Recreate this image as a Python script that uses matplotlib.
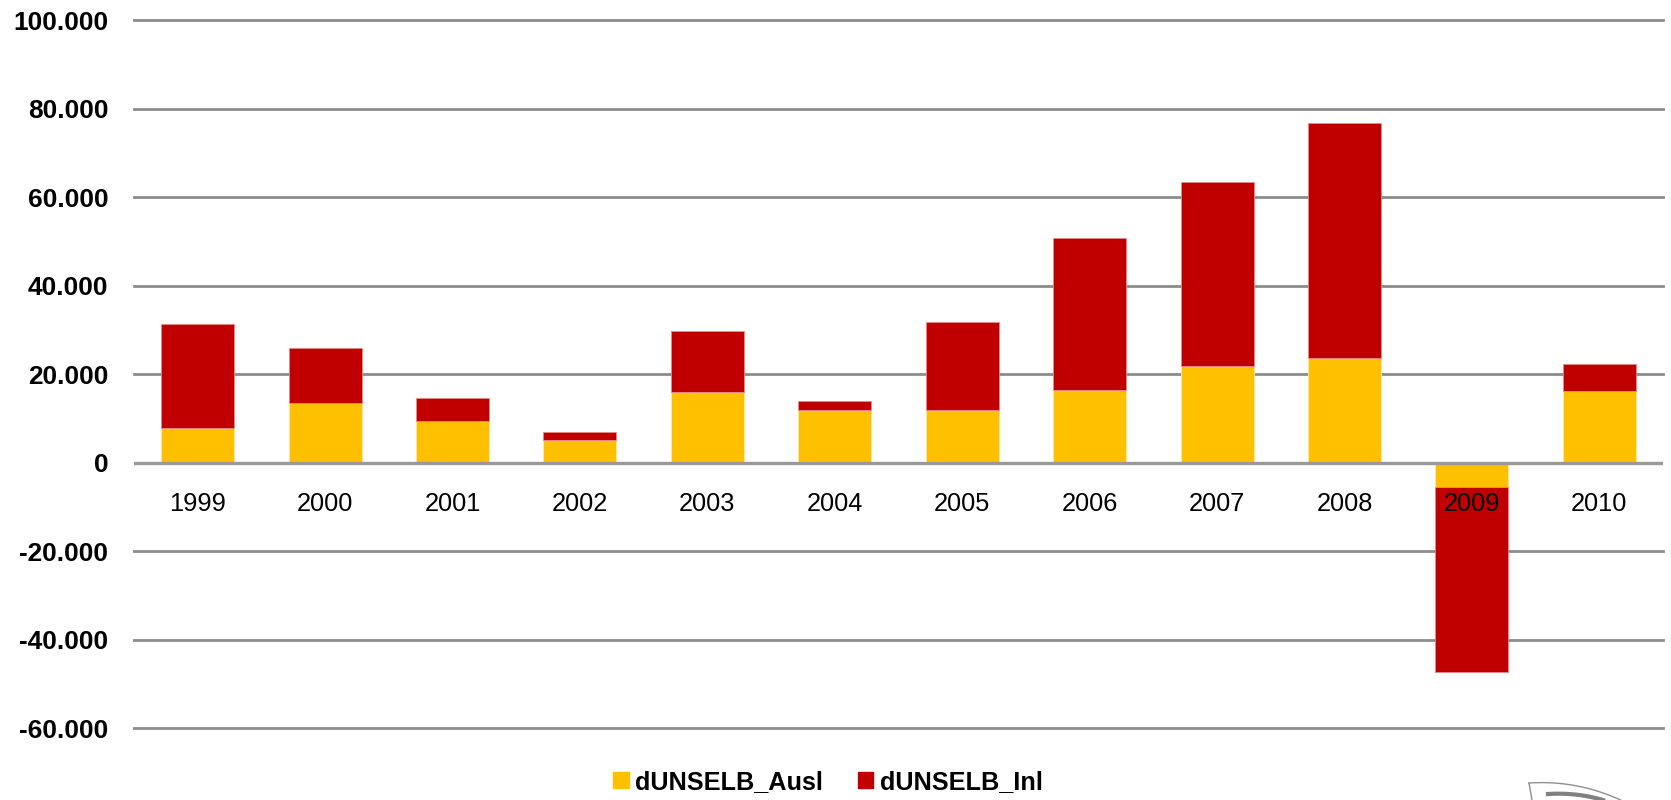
import matplotlib
matplotlib.use("Agg")
import matplotlib.pyplot as plt
import numpy as np
from matplotlib.lines import Line2D

years = ["1999", "2000", "2001", "2002", "2003", "2004", "2005", "2006", "2007", "2008", "2009", "2010"]
ausl = [7800, 13400, 9350, 5050, 15900, 11800, 11900, 16500, 21900, 23600, -5500, 16200]
inl = [23500, 12500, 5150, 1950, 13800, 2100, 19900, 34200, 41600, 53100, -41700, 6200]
yticks = [-60000, -40000, -20000, 0, 20000, 40000, 60000, 80000, 100000]
ytick_labels = ["-60.000", "-40.000", "-20.000", "0", "20.000", "40.000", "60.000", "80.000", "100.000"]

YELLOW = "#FFC000"
RED = "#C00000"
GRID = "#8C8C8C"

plt.rcParams['font.family'] = ['Liberation Sans', 'DejaVu Sans']

W, H = 1671, 800
fig = plt.figure(figsize=(W / 100, H / 100), dpi=100)
left, right, top, bottom = 134, 1663, 20, 728.3
ax = fig.add_axes([left / W, 1 - bottom / H, (right - left) / W, (bottom - top) / H])

x = np.arange(len(years))
ausl_a = np.array(ausl)
inl_a = np.array(inl)
bw = 0.573
ax.bar(x, ausl_a, width=bw, color=YELLOW, edgecolor="#FFE9A8", linewidth=0.6, zorder=2, label="dUNSELB_Ausl")
ax.bar(x, inl_a, width=bw, bottom=ausl_a, color=RED, edgecolor="#E88A8A", linewidth=0.6, zorder=2, label="dUNSELB_Inl")

ax.set_xlim(-0.5, len(years) - 0.5)
ax.set_ylim(-60000, 100000)

for s in ['left', 'right', 'top']:
    ax.spines[s].set_visible(False)
ax.spines['bottom'].set_position(('data', 0))
ax.spines['bottom'].set_visible(False)

for yv in yticks:
    if yv != 0:
        ax.axhline(yv, color=GRID, lw=2.0, zorder=1, clip_on=False)
ax.axhline(0, color="#999999", lw=2.4, zorder=3)

ax.set_yticks(yticks)
ax.set_yticklabels(ytick_labels, fontsize=18.9, fontweight='bold')
ax.tick_params(axis='y', length=0, pad=18.5)

ax.set_xticks(x)
ax.set_xticklabels(years, fontsize=18.3)
ax.tick_params(axis='x', length=0, pad=21)
ax.xaxis.set_zorder(5)

handles = [plt.Rectangle((0, 0), 1, 1, color=YELLOW), plt.Rectangle((0, 0), 1, 1, color=RED)]
leg = fig.legend(handles, ["dUNSELB_Ausl", "dUNSELB_Inl"], loc='center', bbox_to_anchor=(828 / W, 1 - 782 / H),
                 ncol=2, frameon=False, prop={'weight': 'bold', 'size': 18.2}, handlelength=0.6, handleheight=0.6,
                 handletextpad=0.25, columnspacing=1.4)

# logo fragment bottom-right
fx = lambda px: px / W
fy = lambda py: 1 - py / H
t = np.linspace(0, 1, 30)
lx = 1529 + 92 * t
ly = 783 - 3 * np.sin(np.pi * t * 0.6) + 20 * t ** 2
fig.add_artist(Line2D(fx(lx), fy(ly), color="#8f8f8f", lw=1.0))
fig.add_artist(Line2D(fx(np.array([1529, 1532])), fy(np.array([783, 800])), color="#8f8f8f", lw=1.0))
tx = 1548 + 55 * t
ty = 794 - 2 * np.sin(np.pi * t * 0.5) + 8 * t ** 2
fig.add_artist(Line2D(fx(tx), fy(ty), color="#808080", lw=3.0))

fig.savefig("out.png", dpi=100)
